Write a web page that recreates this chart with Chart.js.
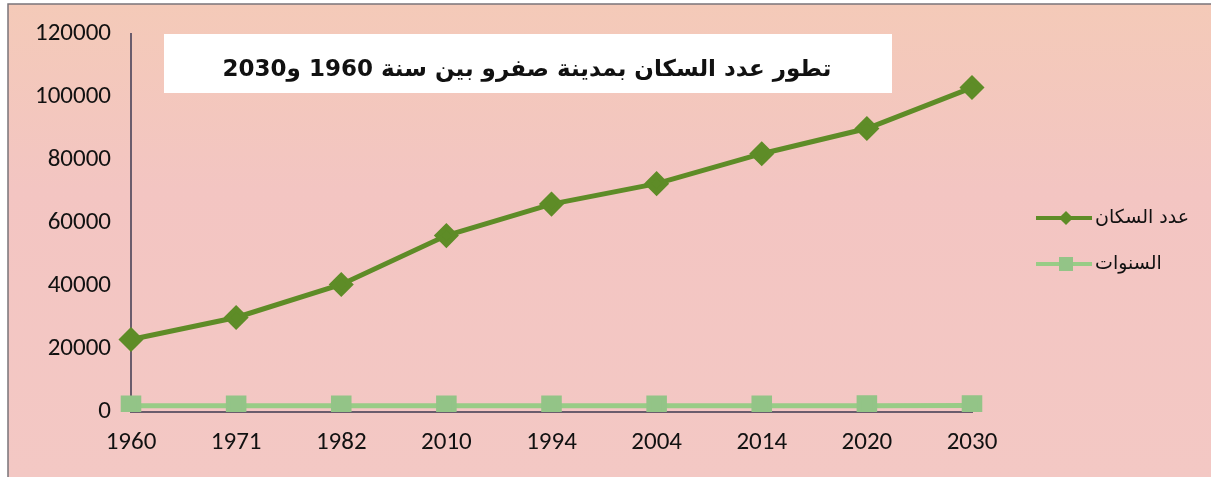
<!DOCTYPE html>
<html>
<head>
<meta charset="utf-8">
<script src="https://cdn.jsdelivr.net/npm/chart.js@4.4.1/dist/chart.umd.min.js"></script>
<style>
  html, body { margin: 0; padding: 0; background: #fff; }
  #wrap { width: 1211px; height: 477px; }
</style>
</head>
<body>
<div id="wrap"><canvas id="myChart" width="1211" height="477"></canvas></div>
<script>
// categories as printed on the x axis (order kept as in the source)
const years = ['1960', '1971', '1982', '2010', '1994', '2004', '2014', '2020', '2030'];
// population series
const population = [23000, 30000, 40500, 56000, 66000, 72500, 82000, 90000, 103000];
// second series: the years themselves, plotted as values
const yearValues = [1960, 1971, 1982, 2010, 1994, 2004, 2014, 2020, 2030];
const yTicks = [0, 20000, 40000, 60000, 80000, 100000, 120000];

const titleText = 'تطور عدد السكان بمدينة صفرو بين سنة 1960 و2030';
const seriesNames = ['عدد السكان', 'السنوات'];

const popColor = '#5e8c27';
const yearColor = '#98cc86';
const axisColor = '#6a5c6c';
const fontFamily = "Calibri, Carlito, 'Open Sans', 'DejaVu Sans', sans-serif";

// paper background + frame
const backdrop = {
  id: 'backdrop',
  beforeDraw(chart) {
    const c = chart.ctx;
    c.save();
    c.fillStyle = '#ffffff';
    c.fillRect(0, 0, chart.width, chart.height);
    const g = c.createLinearGradient(0, 0, 0, chart.height);
    g.addColorStop(0, '#f4cab8');
    g.addColorStop(0.4, '#f3c5c2');
    g.addColorStop(1, '#f3c8c4');
    c.fillStyle = g;
    c.fillRect(8, 4, chart.width - 8, chart.height - 4);
    c.strokeStyle = '#7a7479';
    c.lineWidth = 1.5;
    c.beginPath();
    c.moveTo(8, chart.height);
    c.lineTo(8, 4);
    c.lineTo(chart.width, 4);
    c.stroke();
    c.restore();
  }
};

// white title box sitting inside the plot
const titleBox = {
  id: 'titleBox',
  afterDatasetsDraw(chart) {
    const c = chart.ctx;
    c.save();
    c.fillStyle = '#ffffff';
    c.fillRect(164, 34, 728, 59);
    c.fillStyle = '#111';
    c.font = "bold 23px 'DejaVu Sans', 'Noto Sans', sans-serif";
    c.textAlign = 'center';
    c.textBaseline = 'middle';
    c.direction = 'rtl';
    c.fillText(titleText, 527, 70);
    c.restore();
  }
};

// legend on the right: line + marker, label to its right
const sideLegend = {
  id: 'sideLegend',
  afterDraw(chart) {
    const c = chart.ctx;
    const rows = [218, 264];
    chart.data.datasets.forEach((ds, i) => {
      const y = rows[i];
      c.save();
      c.strokeStyle = ds.borderColor;
      c.lineWidth = 4;
      c.beginPath();
      c.moveTo(1036, y);
      c.lineTo(1092, y);
      c.stroke();
      c.fillStyle = ds.pointBackgroundColor;
      c.translate(1066, y);
      if (ds.pointStyle === 'rectRot') {
        c.rotate(Math.PI / 4);
        c.fillRect(-5, -5, 10, 10);
      } else {
        c.fillRect(-7, -7, 14, 14);
      }
      c.restore();
      c.save();
      c.fillStyle = '#111';
      c.font = "19px 'DejaVu Sans', 'Noto Sans', sans-serif";
      c.textAlign = 'left';
      c.textBaseline = 'middle';
      c.fillText(ds.label, 1095, y);
      c.restore();
    });
  }
};

const ctx = document.getElementById('myChart').getContext('2d');
new Chart(ctx, {
  type: 'line',
  data: {
    labels: years,
    datasets: [{
      label: seriesNames[0],
      data: population,
      borderColor: popColor,
      backgroundColor: popColor,
      pointBackgroundColor: popColor,
      pointBorderColor: popColor,
      borderWidth: 5,
      pointStyle: 'rectRot',
      pointRadius: 9,
      tension: 0
    }, {
      label: seriesNames[1],
      data: yearValues,
      borderColor: yearColor,
      backgroundColor: yearColor,
      pointBackgroundColor: '#93c487',
      pointBorderColor: '#93c487',
      borderWidth: 5,
      pointStyle: 'rect',
      pointRadius: 11,
      tension: 0
    }]
  },
  options: {
    responsive: false,
    animation: false,
    layout: { padding: { top: 34, right: 239, left: 0, bottom: 0 } },
    plugins: {
      legend: { display: false },
      title: { display: false },
      tooltip: { enabled: false }
    },
    scales: {
      x: {
        type: 'category',
        offset: false,
        grid: { display: false, drawTicks: true, tickLength: 8, tickColor: axisColor },
        border: { display: true, color: axisColor, width: 2 },
        ticks: { color: '#111', font: { family: fontFamily, size: 25 }, padding: 8, maxRotation: 0, autoSkip: false },
        afterFit(scale) {
          scale.height = 65;
          scale.paddingLeft = 0;
          scale.paddingRight = 0;
        }
      },
      y: {
        min: 0,
        max: 120000,
        afterBuildTicks(scale) {
          scale.ticks = yTicks.map(v => ({ value: v }));
        },
        grid: { display: false, drawTicks: true, tickLength: 8, tickColor: axisColor },
        border: { display: true, color: axisColor, width: 2 },
        ticks: {
          color: '#111',
          font: { family: fontFamily, size: 25 },
          padding: 12,
          callback: v => String(v)
        },
        afterFit(scale) {
          scale.width = 131;
          scale.paddingTop = 0;
          scale.paddingBottom = 0;
        }
      }
    }
  },
  plugins: [backdrop, titleBox, sideLegend]
});
</script>
</body>
</html>
